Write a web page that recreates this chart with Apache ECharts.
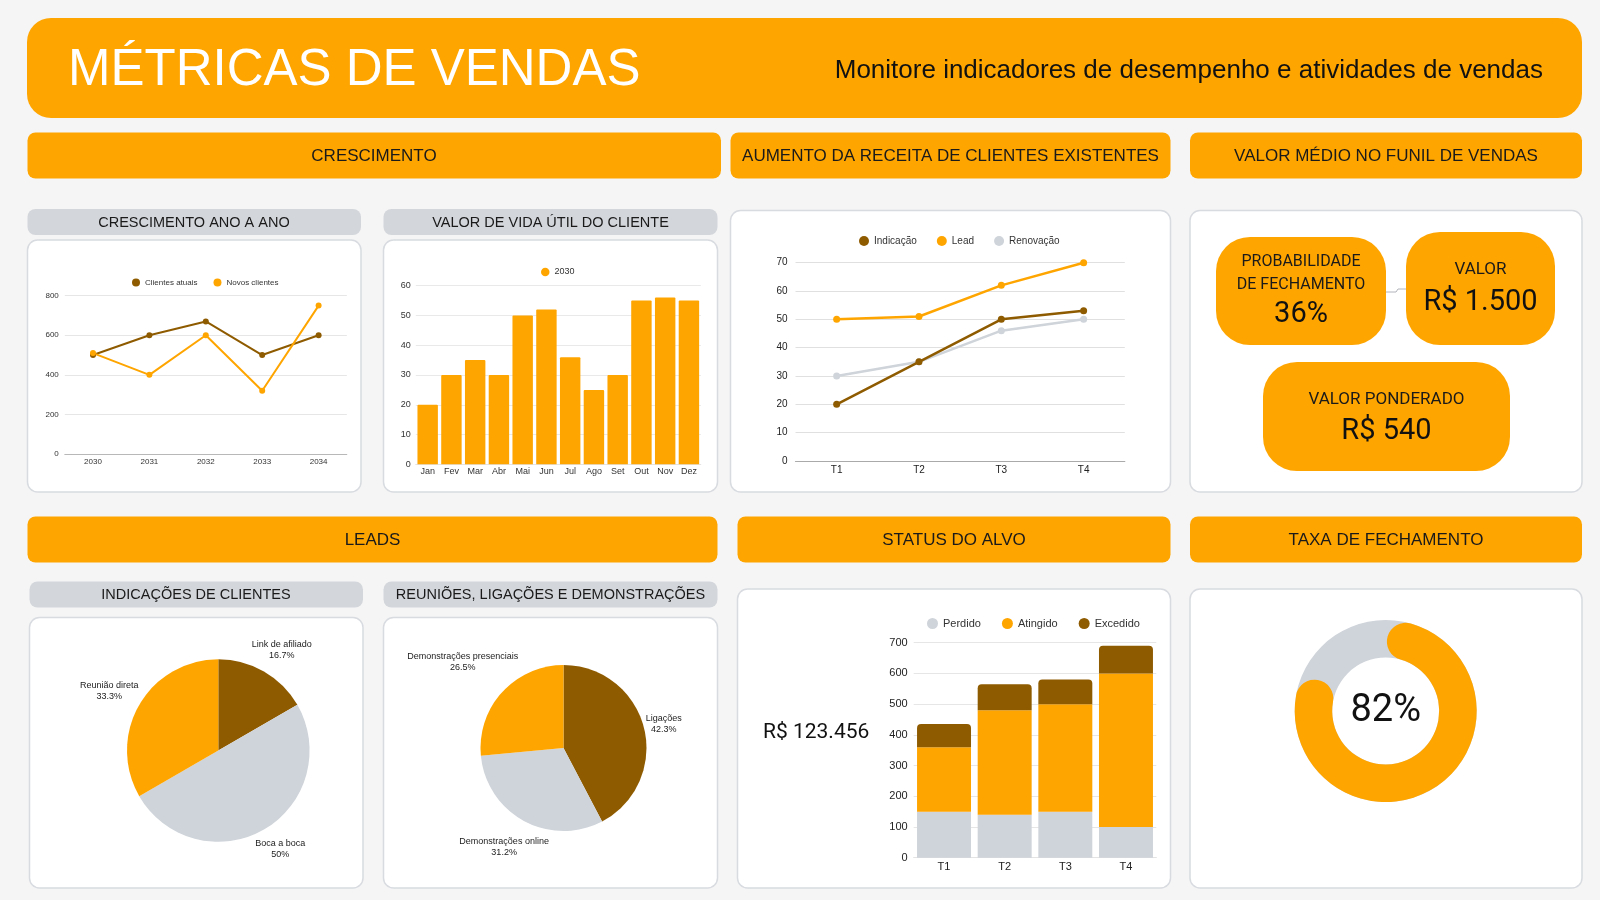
<!DOCTYPE html>
<html>
<head>
<meta charset="utf-8">
<script src="https://cdn.jsdelivr.net/npm/echarts@6.0.0/dist/echarts.min.js"></script>
<style>
html,body{margin:0;padding:0;background:#f5f5f5;}
#c{width:1600px;height:900px;}
</style>
</head>
<body>
<div id="c"></div>
<script>
// ---------- DATA ----------
const anos = ['2030', '2031', '2032', '2033', '2034'];
const clientesAtuais = [500, 600, 670, 500, 600];
const novosClientes = [510, 400, 600, 320, 750];

const meses = ['Jan', 'Fev', 'Mar', 'Abr', 'Mai', 'Jun', 'Jul', 'Ago', 'Set', 'Out', 'Nov', 'Dez'];
const vidaUtil2030 = [20, 30, 35, 30, 50, 52, 36, 25, 30, 55, 56, 55];

const trimestres = ['T1', 'T2', 'T3', 'T4'];
const indicacao = [20, 35, 50, 53];
const lead = [50, 51, 62, 70];
const renovacao = [30, 35, 46, 50];

const perdido = [150, 140, 150, 100];
const atingido = [210, 340, 350, 500];
const excedido = [75, 85, 80, 90];

const indicacoesNomes = ['Link de afiliado', 'Boca a boca', 'Reunião direta'];
const indicacoesValores = [1, 3, 2];

const reunioesNomes = ['Ligações', 'Demonstrações online', 'Demonstrações presenciais'];
const reunioesValores = [42.3, 31.2, 26.5];

const probabilidadeFechamento = 36;
const valorMedio = 1500;
const valorPonderado = 540;
const totalAlvo = 123456;
const taxaFechamento = 82;

// ---------- STYLE ----------
const ORANGE = '#FFA500';
const BROWN = '#8F5B00';
const GRAY = '#CFD4DA';
const SUB = '#D3D6DB';
const FONT = 'Liberation Sans, Arial, sans-serif';
const KFONT = 'Roboto, Liberation Sans, sans-serif';

function brl(n) {
  return 'R$ ' + String(n).replace(/\B(?=(\d{3})+(?!\d))/g, '.');
}
function rect(x, y, w, h, r, fill, stroke) {
  return {
    type: 'rect', silent: true,
    shape: { x: x, y: y, width: w, height: h, r: r },
    style: { fill: fill, stroke: stroke || null, lineWidth: stroke ? 1.5 : 0 }
  };
}
function text(x, y, str, font, fill, align) {
  const a = align || 'center';
  return {
    type: 'text', silent: true, x: x, y: y,
    style: {
      text: str, font: font, fill: fill,
      align: a, textAlign: a, verticalAlign: 'middle', textVerticalAlign: 'middle'
    }
  };
}
function pieLabelLayout(cx, cy, r, gap) {
  return function (p) {
    const rc = p.labelRect;
    let ax = rc.x + rc.width / 2;
    if (p.align === 'left') ax = rc.x;
    else if (p.align === 'right') ax = rc.x + rc.width;
    const ay = rc.y + rc.height / 2;
    const dx = ax - cx, dy = ay - cy;
    const n = Math.hypot(dx, dy) || 1;
    const ux = dx / n, uy = dy / n;
    const half = Math.abs(ux) * rc.width / 2 + Math.abs(uy) * rc.height / 2;
    const d = r + gap + half;
    return { x: cx + ux * d, y: cy + uy * d, align: 'center', verticalAlign: 'middle' };
  };
}

const CARD_STROKE = '#D8DBE0';
const graphics = [
  // header
  rect(27, 18, 1555, 100, 24, ORANGE),
  text(68, 70.6, 'MÉTRICAS DE VENDAS', '51px ' + FONT, '#ffffff', 'left'),
  text(1543, 71, 'Monitore indicadores de desempenho e atividades de vendas', '26px ' + FONT, '#111111', 'right'),

  // section headers
  rect(27.5, 132.5, 693.5, 46, 8, ORANGE),
  text(374, 156, 'CRESCIMENTO', '17px ' + FONT, '#1a1a1a'),
  rect(730.5, 132.5, 440, 46, 8, ORANGE),
  text(950.5, 156, 'AUMENTO DA RECEITA DE CLIENTES EXISTENTES', '17px ' + FONT, '#1a1a1a'),
  rect(1190, 132.5, 392, 46, 8, ORANGE),
  text(1386, 156, 'VALOR MÉDIO NO FUNIL DE VENDAS', '17px ' + FONT, '#1a1a1a'),
  rect(27.5, 516.5, 690, 46, 8, ORANGE),
  text(372.5, 540, 'LEADS', '17px ' + FONT, '#1a1a1a'),
  rect(737.5, 516.5, 433, 46, 8, ORANGE),
  text(954, 540, 'STATUS DO ALVO', '17px ' + FONT, '#1a1a1a'),
  rect(1190, 516.5, 392, 46, 8, ORANGE),
  text(1386, 540, 'TAXA DE FECHAMENTO', '17px ' + FONT, '#1a1a1a'),

  // sub headers
  rect(27.5, 209, 333.5, 26, 8, SUB),
  text(194, 222.5, 'CRESCIMENTO ANO A ANO', '14.5px ' + FONT, '#1a1a1a'),
  rect(383.5, 209, 334, 26, 8, SUB),
  text(550.5, 222.5, 'VALOR DE VIDA ÚTIL DO CLIENTE', '14.5px ' + FONT, '#1a1a1a'),
  rect(29.5, 581.5, 333.5, 26, 8, SUB),
  text(196, 595, 'INDICAÇÕES DE CLIENTES', '14.5px ' + FONT, '#1a1a1a'),
  rect(383.5, 581.5, 334, 26, 8, SUB),
  text(550.5, 595, 'REUNIÕES, LIGAÇÕES E DEMONSTRAÇÕES', '14.5px ' + FONT, '#1a1a1a'),

  // cards
  rect(27.5, 240, 333.5, 252, 10, '#ffffff', CARD_STROKE),
  rect(383.5, 240, 334, 252, 10, '#ffffff', CARD_STROKE),
  rect(730.5, 210.5, 440, 281.5, 10, '#ffffff', CARD_STROKE),
  rect(1190, 210.5, 392, 281.5, 10, '#ffffff', CARD_STROKE),
  rect(29.5, 617.5, 333.5, 270.5, 10, '#ffffff', CARD_STROKE),
  rect(383.5, 617.5, 334, 270.5, 10, '#ffffff', CARD_STROKE),
  rect(737.5, 589, 433, 299, 10, '#ffffff', CARD_STROKE),
  rect(1190, 589, 392, 299, 10, '#ffffff', CARD_STROKE),

  // KPI boxes
  {
    type: 'polyline', silent: true,
    shape: { points: [[1386, 292], [1396, 292], [1398, 289], [1406, 289]] },
    style: { stroke: '#B0B4BA', lineWidth: 1, fill: null }
  },
  rect(1216, 237, 170, 108, 34, ORANGE),
  text(1301, 262, 'PROBABILIDADE', '16px ' + KFONT, '#1a1a1a'),
  text(1301, 285, 'DE FECHAMENTO', '16px ' + KFONT, '#1a1a1a'),
  text(1301, 315, probabilidadeFechamento + '%', '29px ' + KFONT, '#111111'),
  rect(1406, 232, 149, 113, 34, ORANGE),
  text(1480.5, 270, 'VALOR', '17px ' + KFONT, '#1a1a1a'),
  text(1480.5, 303, brl(valorMedio), '29px ' + KFONT, '#111111'),
  rect(1263, 362, 247, 109, 34, ORANGE),
  text(1386.5, 400, 'VALOR PONDERADO', '17px ' + KFONT, '#1a1a1a'),
  text(1386.5, 432, brl(valorPonderado), '29px ' + KFONT, '#111111'),

  // status total
  text(763, 733, brl(totalAlvo), '21px ' + KFONT, '#111111', 'left')
];

const PIE1 = { cx: 218.3, cy: 750.5, r: 91.3 };
const PIE2 = { cx: 563.5, cy: 748, r: 83 };

const option = {
  animation: false,
  backgroundColor: '#f5f5f5',
  textStyle: { fontFamily: FONT },
  graphic: { elements: graphics },
  legend: [
    {
      data: ['Clientes atuais', 'Novos clientes'], left: 132, top: 278.5, padding: 0,
      icon: 'circle', itemWidth: 8, itemHeight: 8, itemGap: 16, selectedMode: false,
      textStyle: { fontSize: 8, color: '#333' }
    },
    {
      data: ['2030'], left: 541, top: 267.5, padding: 0,
      icon: 'circle', itemWidth: 8.5, itemHeight: 8.5, selectedMode: false,
      textStyle: { fontSize: 9, color: '#333' }
    },
    {
      data: ['Indicação', 'Lead', 'Renovação'], left: 859, top: 236, padding: 0,
      icon: 'circle', itemWidth: 10, itemHeight: 10, itemGap: 20, selectedMode: false,
      textStyle: { fontSize: 10, color: '#333' }
    },
    {
      data: ['Perdido', 'Atingido', 'Excedido'], left: 927, top: 618, padding: 0,
      icon: 'circle', itemWidth: 11, itemHeight: 11, itemGap: 21, selectedMode: false,
      textStyle: { fontSize: 11, color: '#333' }
    }
  ],
  grid: [
    { left: 64.8, top: 295.7, width: 282, height: 158.3, outerBoundsMode: 'none' },
    { left: 415.8, top: 285.7, width: 285, height: 178.6, outerBoundsMode: 'none' },
    { left: 795.5, top: 262.7, width: 329.3, height: 198.3, outerBoundsMode: 'none' },
    { left: 913.7, top: 642.7, width: 242.6, height: 215, outerBoundsMode: 'none' }
  ],
  xAxis: [
    {
      gridIndex: 0, type: 'category', data: anos,
      axisTick: { show: false }, axisLine: { lineStyle: { color: '#B8B8B8' } },
      axisLabel: { fontSize: 8, color: '#333', margin: 4 }
    },
    {
      gridIndex: 1, type: 'category', data: meses,
      axisTick: { show: false }, axisLine: { lineStyle: { color: '#E3E3E3' } },
      axisLabel: { fontSize: 9, color: '#333', margin: 3 }
    },
    {
      gridIndex: 2, type: 'category', data: trimestres,
      axisTick: { show: false }, axisLine: { lineStyle: { color: '#AAAAAA', width: 1.2 } },
      axisLabel: { fontSize: 10, color: '#222', margin: 4 }
    },
    {
      gridIndex: 3, type: 'category', data: trimestres,
      axisTick: { show: false }, axisLine: { lineStyle: { color: '#E3E3E3' } },
      axisLabel: { fontSize: 11, color: '#222', margin: 4 }
    }
  ],
  yAxis: [
    {
      gridIndex: 0, type: 'value', min: 0, max: 800, interval: 200,
      axisLine: { show: false }, axisTick: { show: false },
      splitLine: { lineStyle: { color: '#E6E6E6' } },
      axisLabel: { fontSize: 8, color: '#333', margin: 6 }
    },
    {
      gridIndex: 1, type: 'value', min: 0, max: 60, interval: 10,
      axisLine: { show: false }, axisTick: { show: false },
      splitLine: { lineStyle: { color: '#E9E9E9' } },
      axisLabel: { fontSize: 9, color: '#333', margin: 5 }
    },
    {
      gridIndex: 2, type: 'value', min: 0, max: 70, interval: 10,
      axisLine: { show: false }, axisTick: { show: false },
      splitLine: { lineStyle: { color: '#E0E0E0' } },
      axisLabel: { fontSize: 10, color: '#222', margin: 8 }
    },
    {
      gridIndex: 3, type: 'value', min: 0, max: 700, interval: 100,
      axisLine: { show: false }, axisTick: { show: false },
      splitLine: { lineStyle: { color: '#E6E6E6' } },
      axisLabel: { fontSize: 11, color: '#222', margin: 6 }
    }
  ],
  series: [
    // chart A
    {
      name: 'Clientes atuais', type: 'line', xAxisIndex: 0, yAxisIndex: 0, data: clientesAtuais,
      color: BROWN, symbol: 'circle', symbolSize: 6, lineStyle: { width: 2 }
    },
    {
      name: 'Novos clientes', type: 'line', xAxisIndex: 0, yAxisIndex: 0, data: novosClientes,
      color: ORANGE, symbol: 'circle', symbolSize: 6, lineStyle: { width: 2 }
    },
    // chart B
    {
      name: '2030', type: 'bar', xAxisIndex: 1, yAxisIndex: 1, data: vidaUtil2030,
      color: ORANGE, barCategoryGap: '14%', itemStyle: { borderRadius: [1, 1, 0, 0] }
    },
    // chart C
    {
      name: 'Indicação', type: 'line', xAxisIndex: 2, yAxisIndex: 2, data: indicacao, z: 4,
      color: BROWN, symbol: 'circle', symbolSize: 7, lineStyle: { width: 2.5 }
    },
    {
      name: 'Lead', type: 'line', xAxisIndex: 2, yAxisIndex: 2, data: lead, z: 4,
      color: ORANGE, symbol: 'circle', symbolSize: 7, lineStyle: { width: 2.5 }
    },
    {
      name: 'Renovação', type: 'line', xAxisIndex: 2, yAxisIndex: 2, data: renovacao, z: 3,
      color: GRAY, symbol: 'circle', symbolSize: 7, lineStyle: { width: 2.5 }
    },
    // chart G stacked
    {
      name: 'Perdido', type: 'bar', stack: 'alvo', xAxisIndex: 3, yAxisIndex: 3, data: perdido,
      color: GRAY, barCategoryGap: '11%'
    },
    {
      name: 'Atingido', type: 'bar', stack: 'alvo', xAxisIndex: 3, yAxisIndex: 3, data: atingido,
      color: ORANGE, barCategoryGap: '11%'
    },
    {
      name: 'Excedido', type: 'bar', stack: 'alvo', xAxisIndex: 3, yAxisIndex: 3, data: excedido,
      color: BROWN, barCategoryGap: '11%', itemStyle: { borderRadius: [4, 4, 0, 0] }
    },
    // pie E
    {
      type: 'pie', center: [PIE1.cx, PIE1.cy], radius: PIE1.r, startAngle: 90, clockwise: true,
      avoidLabelOverlap: false, percentPrecision: 1, silent: true,
      color: [BROWN, GRAY, ORANGE],
      data: indicacoesNomes.map(function (n, i) { return { name: n, value: indicacoesValores[i] }; }),
      label: {
        position: 'outside', formatter: '{b}\n{d}%', fontSize: 9, lineHeight: 11, color: '#222'
      },
      labelLine: { show: false, length: 15, length2: 0 },
      labelLayout: pieLabelLayout(PIE1.cx, PIE1.cy, PIE1.r, 2)
    },
    // pie F
    {
      type: 'pie', center: [PIE2.cx, PIE2.cy], radius: PIE2.r, startAngle: 90, clockwise: true,
      avoidLabelOverlap: false, percentPrecision: 1, silent: true,
      color: [BROWN, GRAY, ORANGE],
      data: reunioesNomes.map(function (n, i) { return { name: n, value: reunioesValores[i] }; }),
      label: {
        position: 'outside', formatter: '{b}\n{d}%', fontSize: 9, lineHeight: 11, color: '#222'
      },
      labelLine: { show: false, length: 15, length2: 0 },
      labelLayout: pieLabelLayout(PIE2.cx, PIE2.cy, PIE2.r, 0)
    },
    // donut background ring
    {
      type: 'gauge', center: [1385.7, 711], radius: 91, startAngle: 90, endAngle: -270,
      min: 0, max: 100, silent: true,
      axisLine: { lineStyle: { width: 37.5, color: [[1, GRAY]] } },
      progress: { show: false }, pointer: { show: false }, anchor: { show: false },
      axisTick: { show: false }, splitLine: { show: false }, axisLabel: { show: false },
      title: { show: false }, detail: { show: false },
      data: [{ value: 0 }]
    },
    // donut progress (82% of the ring including round caps)
    {
      type: 'gauge', center: [1385.7, 711], radius: 91, startAngle: 74, endAngle: -248,
      min: 0, max: 100, silent: true,
      axisLine: { show: false, lineStyle: { width: 37.5, color: [[1, 'rgba(0,0,0,0)']] } },
      progress: { show: true, roundCap: true, width: 37.5, itemStyle: { color: ORANGE } },
      pointer: { show: false }, anchor: { show: false },
      axisTick: { show: false }, splitLine: { show: false }, axisLabel: { show: false },
      title: { show: false },
      detail: {
        show: true, offsetCenter: [0, 0], formatter: '{value}%',
        fontSize: 38, fontWeight: 'normal', fontFamily: KFONT, color: '#111'
      },
      data: [{ value: taxaFechamento }]
    }
  ]
};

const chart = echarts.init(document.getElementById('c'), null, { renderer: 'canvas', width: 1600, height: 900 });
chart.setOption(option);
</script>
</body>
</html>
